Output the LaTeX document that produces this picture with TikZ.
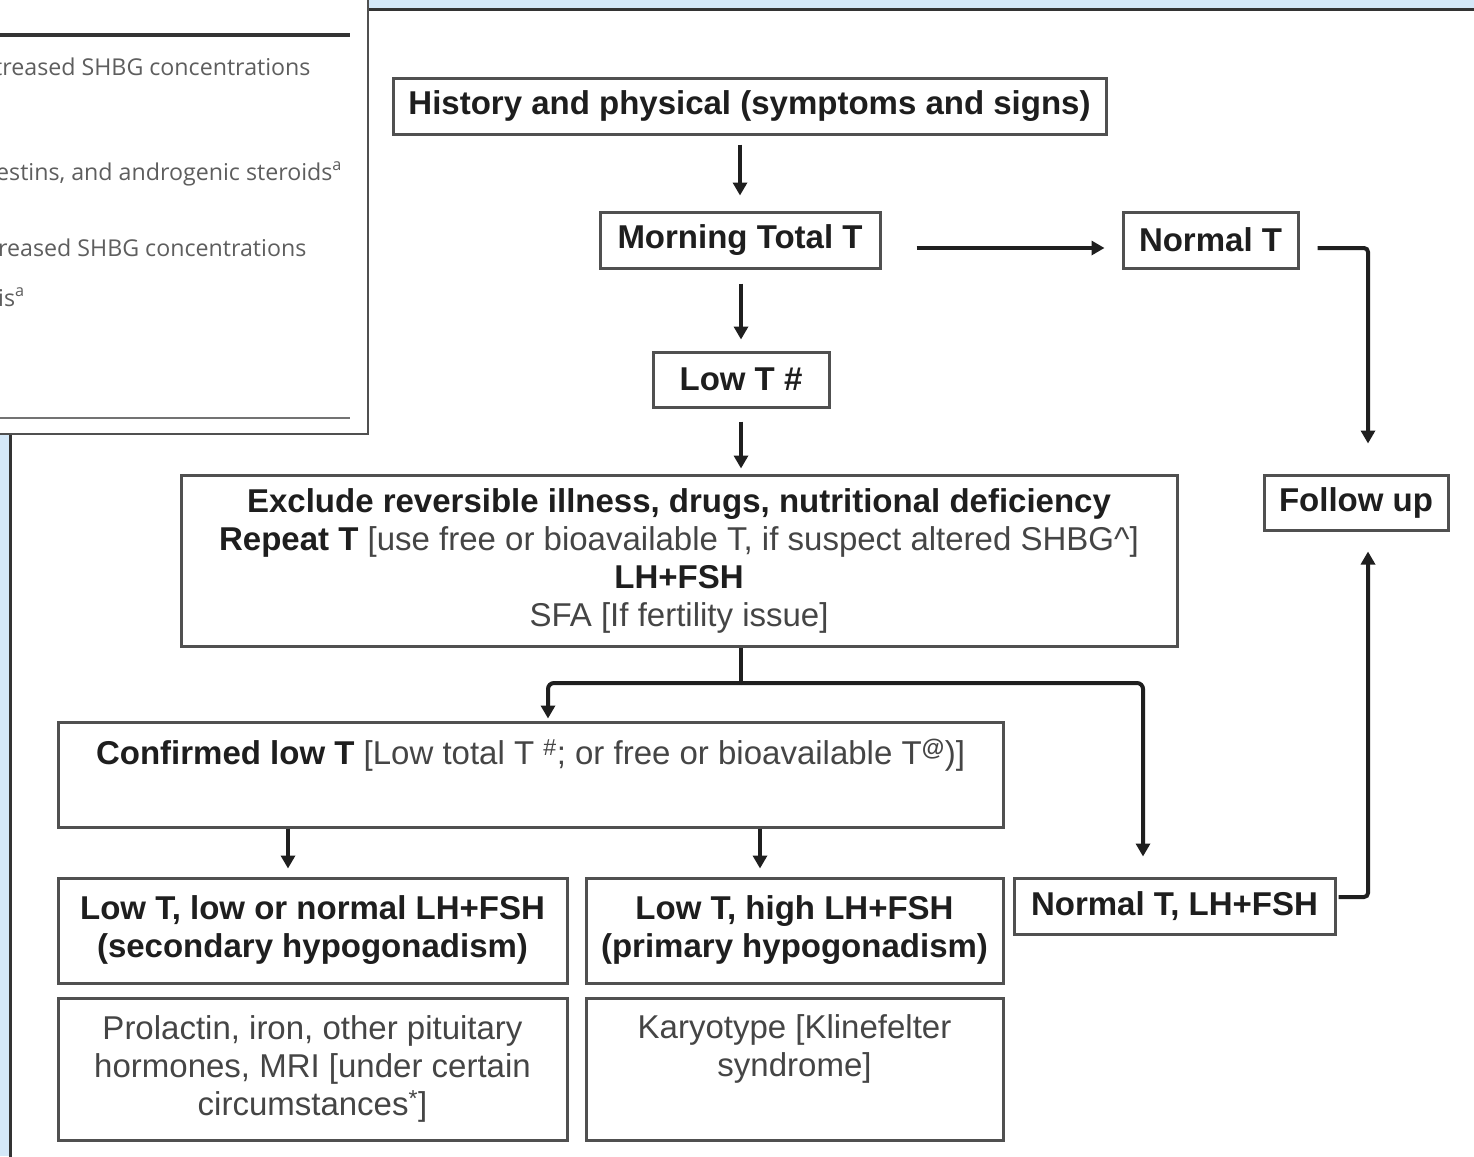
\documentclass[tikz,border=0pt]{standalone}
\usepackage{fontspec}
\setmainfont{Liberation Sans}
\newfontfamily\ovfont{Open Sans}
\usetikzlibrary{arrows.meta}
\definecolor{bgblue}{HTML}{D4E8F8}
\definecolor{boxgray}{HTML}{505050}
\definecolor{txtgray}{HTML}{454545}
\definecolor{txtdark}{HTML}{1E1E1E}
\definecolor{ovgray}{HTML}{5E5E5E}
\definecolor{framedark}{HTML}{333333}
\newcommand{\bld}[1]{\textcolor{txtdark}{\bfseries #1}}
\tikzset{
  box/.style={draw=boxgray, line width=3pt, fill=white, inner sep=0pt, align=center,
    font=\fontsize{33}{38}\selectfont, text=txtgray},
  arr/.style={line width=4pt, draw=black!88, -{Triangle[length=13pt,width=14pt]}},
  plainline/.style={line width=4pt, draw=black!88},
  ovtext/.style={anchor=base west, inner sep=0pt, text=ovgray, font=\ovfont\fontsize{23.2}{27}\selectfont},
}
\begin{document}
\begin{tikzpicture}[x=1pt,y=-1pt]
\useasboundingbox (0,0) rectangle (1474,1156);
% background and window frames
\fill[bgblue] (0,0) rectangle (1474,1156);
\fill[white] (10,10) rectangle (1474,1156);
\draw[framedark, line width=3pt] (10,1160) -- (10,10) -- (1480,10);
% overlay window
\fill[white] (-5,-5) rectangle (368,434);
\draw[boxgray, line width=2.5pt] (368,-5) -- (368,434) -- (-5,434);
\draw[framedark, line width=4pt] (-5,35) -- (350,35);
\draw[black!55, line width=2pt] (-5,418) -- (350,418);
\node[ovtext] (ov1) at (-6,75) {treased SHBG concentrations};
\node[ovtext] (ov2) at (-4,180) {estins, and androgenic steroids\textsuperscript{a}};
\node[ovtext] (ov3) at (-2,256) {reased SHBG concentrations};
\node[ovtext] (ov4) at (-2,306) {is\textsuperscript{a}};

% flowchart nodes
\node[box, minimum width=713pt, minimum height=56pt] (hist) at (749.5,106) {\bld{History and physical (symptoms and signs)}};
\node[box, minimum width=280pt, minimum height=56pt] (morning) at (740,240) {\bld{Morning Total T}};
\node[box, minimum width=175pt, minimum height=56pt] (normalT) at (1210.5,240) {\bld{Normal T}};
\node[box, minimum width=176pt, minimum height=55pt] (lowT) at (741,379.5) {\bld{Low T \#}};
\node[box, minimum width=184pt, minimum height=55pt] (fu) at (1356,502.5) {\bld{Follow up}};
\node[box, minimum width=996pt, minimum height=171pt] (excl) at (679,560.5) {\bld{Exclude reversible illness, drugs, nutritional deficiency}\\
  \bld{Repeat T} [use free or bioavailable T, if suspect altered SHBG\^{}]\\
  \bld{LH+FSH}\\
  SFA [If fertility issue]};
\node[box, minimum width=945pt, minimum height=105pt] (conf) at (530.5,774.5) {\bld{Confirmed low T} [Low total T \textsuperscript{\#}; or free or bioavailable T\textsuperscript{\bfseries @})]\\[8pt] ~};
\node[box, minimum width=509pt, minimum height=105pt] (lowlow) at (312.5,930.5) {\bld{Low T, low or normal LH+FSH}\\ \bld{(secondary hypogonadism)}};
\node[box, minimum width=417pt, minimum height=105pt] (lowhigh) at (794.5,930.5) {\bld{Low T, high LH+FSH}\\ \bld{(primary hypogonadism)}};
\node[box, minimum width=321pt, minimum height=56pt] (normLH) at (1174.5,906) {\bld{Normal T, LH+FSH}};
\node[box, minimum width=509pt, minimum height=142pt] (prol) at (312.5,1069) {Prolactin, iron, other pituitary\\ hormones, MRI [under certain\\ circumstances\textsuperscript{*}]};
\node[box, minimum width=417pt, minimum height=142pt] (karyo) at (794.5,1069) {Karyotype [Klinefelter\\ syndrome]\\[8pt] ~};

% connectors
\draw[arr, shorten <=9pt, shorten >=15pt] (morning.north |- hist.south) -- (morning.north);
\draw[arr, shorten <=14pt, shorten >=11pt] ([xshift=1pt]morning.south) -- (lowT.north);
\draw[arr, shorten <=13pt, shorten >=5pt] (lowT.south) -- (lowT.south |- excl.north);
\draw[arr, shorten <=35pt, shorten >=17pt] ([yshift=-8pt]morning.east) -- ([yshift=-8pt]normalT.west);
\draw[arr, rounded corners=4pt, shorten <=18pt, shorten >=30pt] ([yshift=-8pt]normalT.east) -| ([xshift=12pt]fu.north);
\draw[arr, rounded corners=4pt, shorten <=2pt, shorten >=20pt] ([yshift=9pt]normLH.east) -| ([xshift=12pt]fu.south);
\coordinate (split) at (741,683);
\draw[plainline] (split |- excl.south) -- (split);
\draw[arr, rounded corners=6pt, shorten >=2pt] (split) -| ([xshift=17.5pt]conf.north);
\draw[arr, rounded corners=6pt, shorten >=20pt] (split) -| ([xshift=-31.5pt]normLH.north);
\draw[arr, shorten >=8pt] ([xshift=-24.5pt]lowlow.north |- conf.south) -- ([xshift=-24.5pt]lowlow.north);
\draw[arr, shorten >=8pt] ([xshift=-34.5pt]lowhigh.north |- conf.south) -- ([xshift=-34.5pt]lowhigh.north);
\end{tikzpicture}
\end{document}
